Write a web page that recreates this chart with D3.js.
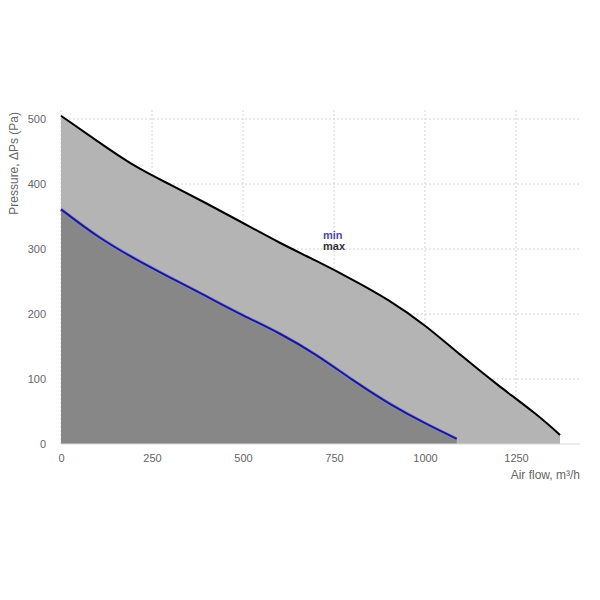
<!DOCTYPE html>
<html><head><meta charset="utf-8">
<script src="https://cdn.jsdelivr.net/npm/d3@7/dist/d3.min.js"></script>
<style>body{margin:0;background:#fff}svg{display:block;font-family:"Liberation Sans",Arial,sans-serif}</style>
</head><body><svg id="c" width="600" height="600"></svg>
<script>
const maxFlow = [0, 100, 200, 300, 400, 500, 600, 700, 800, 900, 1000, 1100, 1200, 1300, 1371];
const maxPressure = [505, 466, 429, 399, 370, 340, 310, 282, 253, 221, 182, 136, 91, 48, 14];
const minFlow = [0, 100, 200, 300, 400, 500, 600, 700, 800, 900, 1000, 1087];
const minPressure = [361, 320, 286, 256, 227, 198, 170, 137, 99, 63, 32, 8];
const xTicks = [0, 250, 500, 750, 1000, 1250];
const yTicks = [0, 100, 200, 300, 400, 500];
const seriesNames = ["min", "max"];
const xTitle = "Air flow, m³/h";
const yTitle = "Pressure, ΔPs (Pa)";

const svg = d3.select("#c");
const x = d3.scaleLinear().domain([0, 1250]).range([61, 516]);
const y = d3.scaleLinear().domain([0, 500]).range([444, 119]);
const plotTop = 108, plotRight = 580;

const maxData = maxFlow.map((f, i) => [f, maxPressure[i]]);
const minData = minFlow.map((f, i) => [f, minPressure[i]]);

// grid
const g = svg.append("g");
g.selectAll(".vg").data(xTicks).join("line")
  .attr("x1", d => x(d)).attr("x2", d => x(d))
  .attr("y1", y(0)).attr("y2", plotTop)
  .attr("stroke", "#d4d4d4").attr("stroke-dasharray", "2,2");
g.selectAll(".hg").data(yTicks.filter(d => d > 0)).join("line")
  .attr("x1", x(0)).attr("x2", plotRight)
  .attr("y1", d => y(d)).attr("y2", d => y(d))
  .attr("stroke", "#d4d4d4").attr("stroke-dasharray", "2,2");

const curve = d3.curveNatural;
const area = d3.area().x(d => x(d[0])).y0(y(0)).y1(d => y(d[1])).curve(curve);
const line = d3.line().x(d => x(d[0])).y(d => y(d[1])).curve(curve);

svg.append("path").datum(maxData).attr("d", area).attr("fill", "#b4b4b4");
svg.append("path").datum(minData).attr("d", area).attr("fill", "#878787");

// baseline
svg.append("line").attr("x1", x(0)).attr("x2", plotRight).attr("y1", y(0)).attr("y2", y(0))
  .attr("stroke", "#d8d8d8").attr("stroke-width", 1);

svg.append("path").datum(maxData).attr("d", line).attr("fill", "none")
  .attr("stroke", "#000").attr("stroke-width", 2);
svg.append("path").datum(minData).attr("d", line).attr("fill", "none")
  .attr("stroke", "#8a8ad8").attr("stroke-width", 3.5);
svg.append("path").datum(minData).attr("d", line).attr("fill", "none")
  .attr("stroke", "#1a1a8a").attr("stroke-width", 2);

// axes
const xAxis = d3.axisBottom(x).tickValues(xTicks).tickFormat(d3.format("d")).tickSize(0).tickPadding(10);
const xa = svg.append("g").attr("transform", `translate(0,${y(0)})`).call(xAxis);
xa.select(".domain").remove();
xa.selectAll("text").attr("fill", "#666").attr("font-size", 11);

const yAxis = d3.axisLeft(y).tickValues(yTicks).tickFormat(d3.format("d")).tickSize(0).tickPadding(15);
const ya = svg.append("g").attr("transform", `translate(${x(0)},0)`).call(yAxis);
ya.select(".domain").remove();
ya.selectAll("text").attr("fill", "#666").attr("font-size", 11);

svg.append("text").attr("x", plotRight).attr("y", 479).attr("text-anchor", "end")
  .attr("fill", "#666").attr("font-size", 12).text(xTitle);
svg.append("text").attr("transform", "translate(18,112) rotate(-90)").attr("text-anchor", "end")
  .attr("fill", "#666").attr("font-size", 12).text(yTitle);

// labels
const lblColors = ["#4a4aa8", "#333"];
svg.selectAll(".lbl").data(seriesNames).join("text")
  .attr("x", 323).attr("y", (d, i) => 239 + i * 11)
  .attr("font-size", 11).attr("font-weight", "bold")
  .attr("fill", (d, i) => lblColors[i]).text(d => d);
</script></body></html>
